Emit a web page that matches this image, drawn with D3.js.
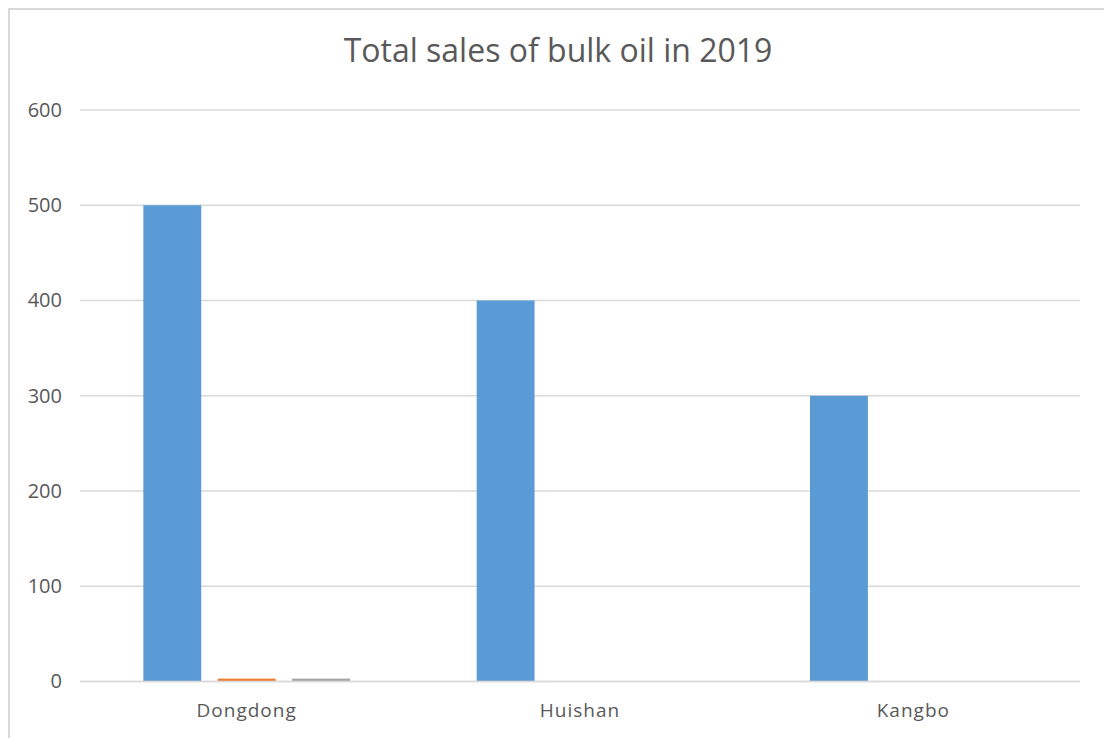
<!DOCTYPE html>
<html>
<head>
<meta charset="utf-8">
<script src="https://cdn.jsdelivr.net/npm/d3@7"></script>
<style>
  html, body { margin: 0; padding: 0; background: #fff; }
  svg { display: block; }
  text { font-family: "Open Sans", "Noto Sans", sans-serif; fill: #595959; }
</style>
</head>
<body>
<svg id="chart" width="1104" height="738"></svg>
<script>
// Chart data
const title = "Total sales of bulk oil in 2019";
const categories = ["Dongdong", "Huishan", "Kangbo"];
const seriesNames = ["Series1", "Series2", "Series3"];
const series1 = [500, 400, 300];
const series2 = [3, 0, 0];
const series3 = [3, 0, 0];
const yTicks = [0, 100, 200, 300, 400, 500, 600];
const colors = ["#5B9BD5", "#ED7D31", "#A5A5A5"];

const seriesValues = [series1, series2, series3];

const svg = d3.select("#chart");
const W = 1104, H = 738;
const plot = { left: 80, right: 1080, top: 110, bottom: 681.5 };

// Outer chart-area frame
svg.append("rect")
  .attr("x", 9).attr("y", 9)
  .attr("width", W + 20).attr("height", H + 20)
  .attr("fill", "#fff")
  .attr("stroke", "#d9d9d9")
  .attr("stroke-width", 2);

const x0 = d3.scaleBand().domain(categories).range([plot.left, plot.right]).padding(0);
const x1 = d3.scaleBand().domain(seriesNames)
  .range([x0.bandwidth() * 0.19, x0.bandwidth() * 0.81])
  .paddingInner(0.2215).paddingOuter(0);
const y = d3.scaleLinear().domain([0, 600]).range([plot.bottom, plot.top]);

// Gridlines
svg.append("g")
  .selectAll("line")
  .data(yTicks)
  .join("line")
  .attr("x1", plot.left).attr("x2", plot.right)
  .attr("y1", d => y(d)).attr("y2", d => y(d))
  .attr("stroke", "#d9d9d9")
  .attr("stroke-width", 1.3);

// Y axis labels
const yAxis = d3.axisLeft(y).tickValues(yTicks).tickSize(0).tickPadding(18);
const gy = svg.append("g").attr("transform", `translate(${plot.left},0)`).call(yAxis);
gy.select(".domain").remove();
gy.selectAll("text")
  .style("font-size", "20px")
  .attr("fill", "#595959")
  .attr("font-family", null);

// Bars
const groups = svg.append("g")
  .selectAll("g")
  .data(categories)
  .join("g")
  .attr("transform", d => `translate(${x0(d)},0)`);

groups.selectAll("rect")
  .data((d, i) => seriesNames.map((s, j) => ({ s, v: seriesValues[j][i], c: colors[j] })))
  .join("rect")
  .attr("x", d => x1(d.s))
  .attr("width", x1.bandwidth())
  .attr("y", d => y(d.v))
  .attr("height", d => y(0) - y(d.v))
  .attr("fill", d => d.c);

// Baseline
svg.append("line")
  .attr("x1", plot.left).attr("x2", plot.right)
  .attr("y1", y(0)).attr("y2", y(0))
  .attr("stroke", "#d9d9d9").attr("stroke-width", 1.3);

// X axis labels
const xAxis = d3.axisBottom(x0).tickSize(0).tickPadding(22);
const gx = svg.append("g").attr("transform", `translate(0,${plot.bottom})`).call(xAxis);
gx.select(".domain").remove();
gx.selectAll("text")
  .style("font-size", "19px")
  .style("letter-spacing", "1px")
  .attr("fill", "#595959")
  .attr("font-family", null);

// Title
svg.append("text")
  .attr("x", 558).attr("y", 62)
  .attr("text-anchor", "middle")
  .style("font-size", "32px")
  .text(title);
</script>
</body>
</html>
